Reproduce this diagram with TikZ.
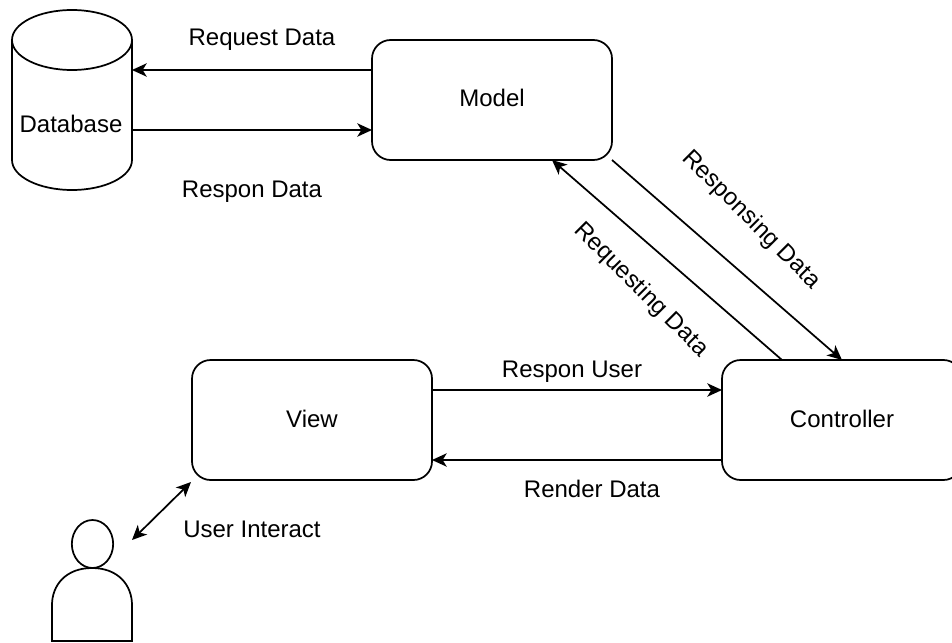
\documentclass[tikz,border=0pt]{standalone}
\usepackage{fontspec}
\setmainfont{Liberation Sans}
\usetikzlibrary{arrows.meta,shapes.geometric}
\begin{document}
\begin{tikzpicture}[x = 0.75pt, y = -0.75pt, line width = 1.3pt, >={Stealth[length = 11pt, width = 10pt, inset = 3pt]},
    main/.style = {draw, rounded corners = 14pt, minimum width = 180pt, minimum height = 90pt, inner sep = 0pt},
    oval/.style = {draw, ellipse, inner sep = 0pt, outer sep = 0pt},
    txt/.style = {font = \fontsize{18}{20}\selectfont, inner sep = 0pt}]
          \useasboundingbox (0,0) rectangle (952,642);
          \node[oval, minimum width = 90pt, minimum height = 45pt] (db) at (72,40) {};
          \node[main] (model) at (492,100) {};
          \node[main] (view) at (312,420) {};
          \node[main] (ctrl) at (842,420) {};
          \node[oval, minimum width = 31pt, minimum height = 36pt] (head) at (92.5,544) {};
          % connector ends
          \coordinate (dbin) at (132,70);
          \coordinate (dbout) at (132,130);
          \coordinate (modelin) at (372,70);
          \coordinate (modelout) at (372,130);
          \coordinate (modelb) at (552,160);
          \coordinate (modelc) at (612,160);
          \coordinate (ctrla) at (782,360);
          \coordinate (ctrlb) at (842,360);
          \coordinate (viewa) at (432,390);
          \coordinate (viewb) at (432,460);
          \coordinate (ctrlc) at (722,390);
          \coordinate (ctrld) at (722,460);
          \coordinate (usera) at (132,540);
          \coordinate (viewc) at (191,482);
          \draw (db.west) -- (12,160) arc[start angle = 180, end angle = 360, x radius = 45pt, y radius = 22.5pt] -- (db.east);
          \draw (52,641) -- (52,605) .. controls (52,585) and (66,568) .. (92,568) .. controls (118,568) and (132,585) .. (132,605) -- (132,641) -- cycle;
          \draw[->] (modelin) -- (dbin);
          \draw[->] (dbout) -- (modelout);
          \draw[->] (modelc) -- (ctrlb);
          \draw[->] (ctrla) -- (modelb);
          \draw[->] (viewa) -- (ctrlc);
          \draw[->] (ctrld) -- (viewb);
          \draw[<->] (usera) -- (viewc);
          \node[txt] (dbtxt) at (71,124) {Database};
          \node[txt] (modeltxt) at (492,98) {Model};
          \node[txt] (viewtxt) at (312,419) {View};
          \node[txt] (ctrltxt) at (842,419) {Controller};
          \node[txt] (req) at (262,40) {Request Data};
          \node[txt] (resp) at (252,192) {Respon Data};
          \node[txt] (respu) at (572,372) {Respon User};
          \node[txt] (render) at (592,489) {Render Data};
          \node[txt] (inter) at (252,529) {User Interact};
          \node[txt, rotate = -45] (respg) at (751,220) {Responsing Data};
          \node[txt, rotate = -45] (reqg) at (641,290) {Requesting Data};
        \end{tikzpicture}
\end{document}
